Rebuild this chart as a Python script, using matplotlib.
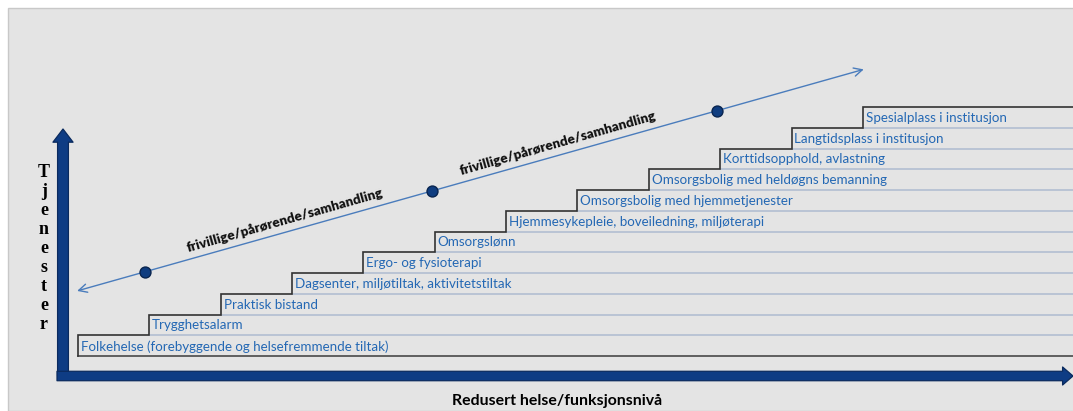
import matplotlib
matplotlib.use("Agg")
import matplotlib.pyplot as plt
from matplotlib.patches import FancyArrowPatch, ArrowStyle, Rectangle

# service levels, lowest to highest
levels = [
    "Folkehelse (forebyggende og helsefremmende tiltak)",
    "Trygghetsalarm",
    "Praktisk bistand",
    "Dagsenter, miljøtiltak, aktivitetstiltak",
    "Ergo- og fysioterapi",
    "Omsorgslønn",
    "Hjemmesykepleie, boveiledning, miljøterapi",
    "Omsorgsbolig med hjemmetjenester",
    "Omsorgsbolig med heldøgns bemanning",
    "Korttidsopphold, avlastning",
    "Langtidsplass i institusjon",
    "Spesialplass i institusjon",
]
step_x = list(range(len(levels)))
step_y = list(range(len(levels)))

# diagonal "frivillige" line, in step units
line_start = (-0.05, 3.1)
line_end = (11.05, 13.85)
dots_x = [0.94, 4.96, 8.96]
side_text = "frivillige/pårørende/samhandling"
side_text_pos = [(2.9, 6.55), (6.72, 10.25)]

y_title = "Tjenester"
x_title = "Redusert helse/funksjonsnivå"

TEXT_BLUE = "#2468b4"
SEP = "#b6c1d3"
NAVY = "#0e3c84"
NAVY_EDGE = "#0a2a5e"

fig = plt.figure(figsize=(10.73, 4.11), dpi=100)
ax = fig.add_axes([0, 0, 1, 1])
x0, x1 = -78 / 71.35, (1073 - 78) / 71.35
y0, y1 = (356 - 411) / 20.75, 356 / 20.75
ax.set_xlim(x0, x1)
ax.set_ylim(y0, y1)
ax.axis("off")

# gray panel
ax.add_patch(Rectangle((x0 + 8 / 71.35, y0), x1 - x0, (y1 - y0) - 8 / 20.75,
                       facecolor="#e4e4e4", edgecolor="#c8c8c8", lw=1.0, zorder=0))

n = len(levels)
# separators
for k in range(1, n):
    ax.plot([step_x[k], x1], [k, k], color=SEP, lw=1.3, zorder=1)
# bottom line
ax.plot([step_x[0], x1], [0, 0], color="#555555", lw=1.3, zorder=2)
# stair profile
px, py = [step_x[0]], [0]
for i in range(n):
    px += [step_x[i], step_x[i] + 1 if i < n - 1 else x1]
    py += [step_y[i] + 1, step_y[i] + 1]
ax.plot(px, py, color="#333333", lw=1.2, zorder=3, solid_joinstyle="miter")

for i, lab in enumerate(levels):
    ax.text(step_x[i] + 0.04, step_y[i] + 0.47, lab, color=TEXT_BLUE,
            fontsize=9.6, family="Lato", va="center", ha="left", zorder=4)

# diagonal arrow
ax.add_patch(FancyArrowPatch(line_start, line_end,
                             arrowstyle=ArrowStyle("<->", head_length=0.6, head_width=0.3),
                             mutation_scale=10, color="#4a7cbc", lw=1.0, zorder=3))
for dx in dots_x:
    t = (dx - line_start[0]) / (line_end[0] - line_start[0])
    dy = line_start[1] + t * (line_end[1] - line_start[1])
    ax.scatter([dx], [dy], s=62, color="#0f3d80", edgecolor="#08244f",
               linewidth=1.0, zorder=5)
for tx, ty in side_text_pos:
    ax.text(tx, ty, side_text, rotation=15.9, rotation_mode="anchor",
            ha="center", va="center", fontsize=9.7, fontweight="heavy",
            family="Lato", color="#111111", zorder=4)

# axis arrows
ax_x = (63 - 78) / 71.35
ax_y = (356 - 376) / 20.75
ax.add_patch(FancyArrowPatch((ax_x, (356 - 376) / 20.75), (ax_x, (356 - 129) / 20.75),
                             arrowstyle=ArrowStyle("simple", head_length=0.95, head_width=1.45,
                                                   tail_width=0.78),
                             mutation_scale=10, facecolor=NAVY, edgecolor=NAVY_EDGE,
                             lw=0.9, zorder=6, shrinkA=0, shrinkB=0))
ax.add_patch(FancyArrowPatch(((57 - 78) / 71.35, ax_y), (x1, ax_y),
                             arrowstyle=ArrowStyle("simple", head_length=0.75, head_width=1.3,
                                                   tail_width=0.68),
                             mutation_scale=10, facecolor=NAVY, edgecolor=NAVY_EDGE,
                             lw=0.9, zorder=6, shrinkA=0, shrinkB=0))

# y title, stacked letters
for k, ch in enumerate(y_title):
    ax.text((44 - 78) / 71.35, (356 - 172) / 20.75 - k * 0.92, ch,
            ha="center", va="center", fontsize=13, fontweight="bold",
            family="Liberation Serif", color="black", zorder=4)

ax.text((557 - 78) / 71.35, (356 - 401) / 20.75, x_title, ha="center", va="center",
        fontsize=11.4, fontweight="bold", family="Lato", color="black")

fig.savefig("out.png", dpi=100)
